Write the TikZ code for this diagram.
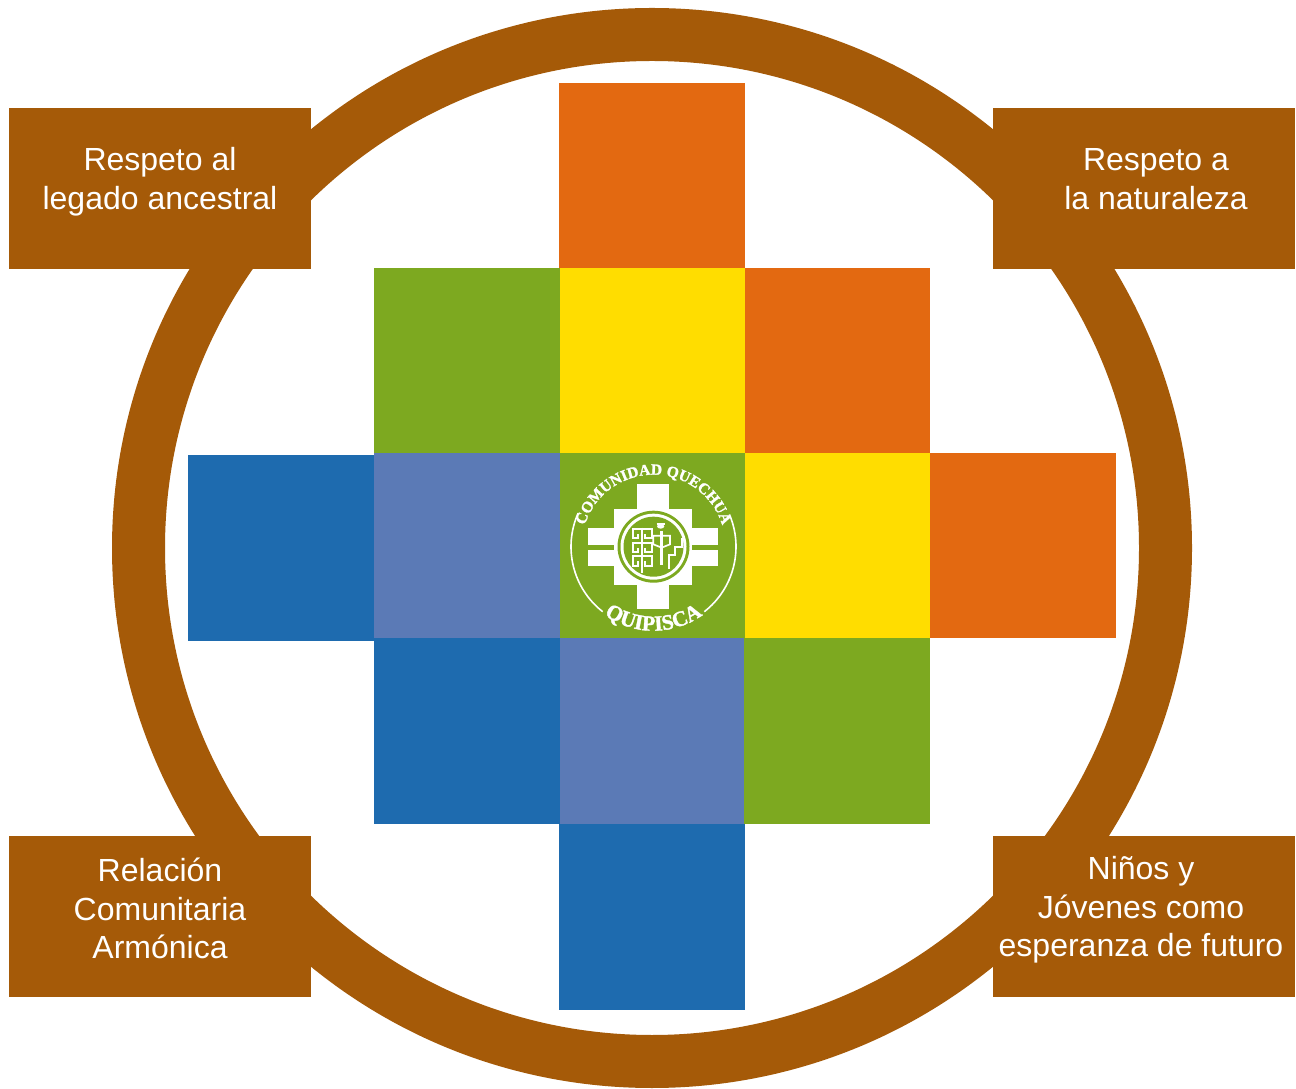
\documentclass[tikz,border=0pt]{standalone}
\usepackage{fontspec}
\setmainfont{Liberation Sans}
\newfontfamily\logofont[BoldFeatures={FakeBold=1.6}]{Liberation Serif}
\usetikzlibrary{decorations.text}
\definecolor{brownc}{HTML}{A55A08}
\definecolor{orangec}{HTML}{E36911}
\definecolor{greenc}{HTML}{7DA920}
\definecolor{yellowc}{HTML}{FFDD00}
\definecolor{bluec}{HTML}{1E6BAF}
\definecolor{peric}{HTML}{5B7AB6}
\tikzset{
  labelbox/.style={fill=brownc,draw=none},
  labeltext/.style={text=white,align=center,font=\fontsize{32}{38.5}\selectfont,inner sep=0pt},
  glyph/.style={draw=white,line width=1.7pt,fill=none,line join=miter},
  logoarc/.style={draw=white,line width=1.6pt}
}
\begin{document}
\begin{tikzpicture}[x=1pt,y=1pt]
\useasboundingbox (0,0) rectangle (1296,1088);
\fill[white] (0,0) rectangle (1296,1088);
% ring
\draw[brownc,line width=53pt] (652,540) circle[radius=513.5];
% boxes
\fill[labelbox] (9,980) rectangle (311,819);
\fill[labelbox] (993,980) rectangle (1295,819);
\fill[labelbox] (9,252) rectangle (311,91);
\fill[labelbox] (993,252) rectangle (1295,91);
\node[labeltext] (tl) at (160,906.5) {Respeto al\\legado ancestral};
\node[labeltext] (tr) at (1156,909) {Respeto a\\la naturaleza};
\node[labeltext] (bl) at (160,179.5) {Relación\\Comunitaria\\Armónica};
\node[labeltext] (br) at (1141,178) {Niños y\\Jóvenes como\\esperanza de futuro};
% squares
\fill[orangec] (559,1005) rectangle (745,820);
\fill[greenc] (374,820) rectangle (559.5,635);
\fill[yellowc] (559.5,820) rectangle (745,635);
\fill[orangec] (745,820) rectangle (930,635);
\fill[bluec] (188,633) rectangle (374,447);
\fill[peric] (374,635) rectangle (559.5,450);
\fill[greenc] (559.5,635) rectangle (745,450);
\fill[yellowc] (745,635) rectangle (930,450);
\fill[orangec] (930,635) rectangle (1116,450);
\fill[bluec] (374,450) rectangle (559.5,264);
\fill[peric] (559.5,450) rectangle (744,264);
\fill[greenc] (744,450) rectangle (930,264);
\fill[bluec] (559,264) rectangle (745,78);
% logo
\coordinate (lc) at (653.5,541.3);
\fill[white] (636.7,603.7) rectangle (669.3,478.7);
\fill[white] (614,579.3) rectangle (692,502.7);
\fill[white] (588,560.3) rectangle (718,543.3);
\fill[white] (588,538) rectangle (718,522);
\fill[greenc] (lc) circle[radius=36];
\fill[white] (lc) circle[radius=33];
\fill[greenc] (lc) circle[radius=30];
\draw[logoarc] (lc) ++(156:82.5) arc[start angle=156,end angle=232,radius=82.5];
\draw[logoarc] (lc) ++(23:82.5) arc[start angle=23,end angle=-52,radius=82.5];
\path[postaction={decorate},decoration={text along path,text align=center,
  text={|\logofont\bfseries\fontsize{15.5}{15.5}\selectfont\color{white}|COMUNIDAD QUECHUA}}]
  (lc) ++(162:72) arc[start angle=162,end angle=18,radius=72];
\path[postaction={decorate},decoration={text along path,text align=center,
  text={|\logofont\bfseries\fontsize{21.5}{21.5}\selectfont\color{white}|QUIPISCA}}]
  (lc) ++(225:84) arc[start angle=225,end angle=315,radius=84];
% glyphs
\begin{scope}[shift={(610,583)},x=.3333pt,y=-.3333pt]
\draw[glyph] (95,68) -- (95,205);
\draw[glyph] (95,72) -- (68,72) -- (68,100) -- (85,100) -- (85,88);
\draw[glyph] (95,72) -- (125,72) -- (125,100) -- (105,100) -- (105,88);
\draw[glyph] (95,113) -- (68,113) -- (68,141) -- (85,141) -- (85,128);
\draw[glyph] (95,113) -- (125,113) -- (125,141) -- (105,141) -- (105,128);
\draw[glyph] (95,154) -- (68,154) -- (68,182) -- (85,182) -- (85,168);
\draw[glyph] (95,154) -- (125,154) -- (125,182) -- (105,182) -- (105,168);
\draw[white,line width=3.4pt] (155,78) -- (155,180);
\fill[white] (152,64) ellipse[x radius=11,y radius=7];
\draw[glyph] (140,56) -- (165,56);
\draw[glyph] (130,118) -- (130,92) -- (180,92) -- (180,118) -- (155,128) -- (130,118);
\draw[glyph] (215,98) -- (215,125) -- (196,125) -- (196,150) -- (178,150) -- (178,192);
\end{scope}
\end{tikzpicture}
\end{document}
